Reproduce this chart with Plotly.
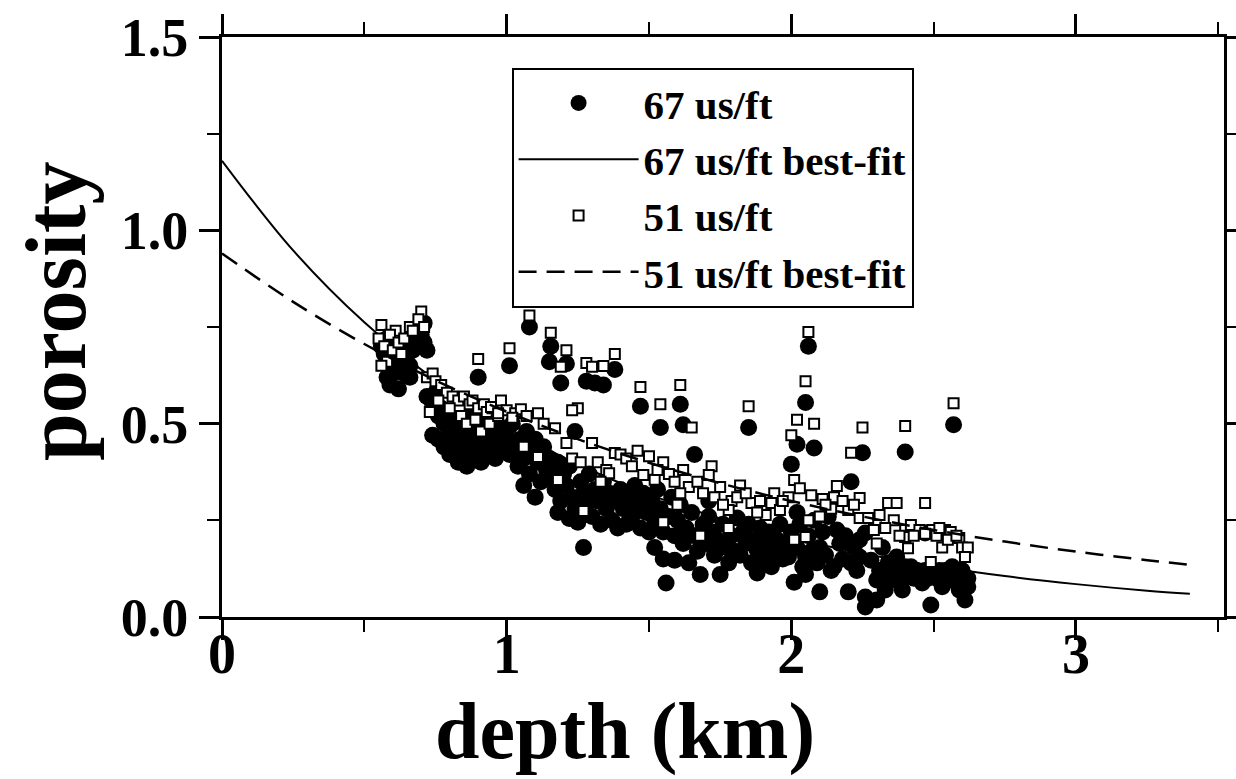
import plotly.graph_objects as go

# ---------------- data ----------------
# 67 us/ft data points (depth km, porosity)
dots_67 = [
    (0.56,0.70),(0.57,0.68),(0.58,0.72),(0.58,0.62),(0.59,0.60),(0.60,0.66),(0.61,0.70),(0.62,0.64),
    (0.62,0.59),(0.63,0.68),(0.64,0.71),(0.65,0.66),(0.66,0.62),(0.67,0.69),(0.68,0.72),(0.69,0.75),
    (0.69,0.70),(0.70,0.73),(0.71,0.76),(0.71,0.71),(0.72,0.69),(0.60,0.63),(0.64,0.63),(0.66,0.65),
    (0.72,0.57),(0.74,0.55),(0.75,0.58),(0.76,0.52),(0.77,0.54),(0.78,0.50),(0.79,0.53),(0.80,0.48),
    (0.74,0.47),(0.76,0.46),(0.78,0.44),(0.80,0.42),(0.82,0.45),(0.83,0.40),(0.84,0.47),(0.85,0.43),
    (0.86,0.39),(0.87,0.45),(0.88,0.41),(0.89,0.48),(0.90,0.44),(0.91,0.40),(0.92,0.46),(0.93,0.50),
    (0.94,0.43),(0.95,0.47),(0.96,0.41),(0.97,0.45),(0.98,0.49),(0.99,0.44),(0.82,0.51),(0.85,0.49),
    (0.88,0.52),(0.91,0.50),(0.94,0.52),(0.96,0.50),
    (1.00,0.47),(1.01,0.42),(1.02,0.50),(1.03,0.44),(1.04,0.39),(1.05,0.46),(1.06,0.41),(1.06,0.34),
    (1.07,0.48),(1.08,0.37),(1.09,0.43),(1.10,0.31),(1.10,0.46),(1.11,0.40),(1.12,0.35),(1.13,0.44),
    (1.14,0.38),(1.15,0.41),(1.16,0.36),(1.17,0.33),(1.18,0.40),(1.18,0.27),(1.19,0.30),(1.20,0.37),
    (1.21,0.34),(1.22,0.255),(1.22,0.39),(1.23,0.31),(1.24,0.48),(1.24,0.28),(1.25,0.245),(1.26,0.35),
    (1.27,0.18),(1.27,0.32),(1.28,0.29),(1.29,0.37),(1.30,0.26),(1.31,0.33),(1.32,0.30),(1.33,0.24),
    (1.34,0.35),(1.35,0.28),(1.36,0.32),(1.37,0.25),(1.38,0.30),(1.39,0.23),
    (1.08,0.75),(1.01,0.65),(1.155,0.70),(1.15,0.66),(1.21,0.655),(1.19,0.605),(1.28,0.61),(1.31,0.605),
    (1.34,0.60),(1.38,0.64),(0.90,0.62),
    (1.40,0.33),(1.41,0.28),(1.42,0.24),(1.43,0.31),(1.44,0.26),(1.45,0.34),(1.46,0.29),(1.47,0.23),
    (1.48,0.32),(1.49,0.27),(1.50,0.22),(1.51,0.30),(1.52,0.25),(1.52,0.18),(1.53,0.33),(1.54,0.28),
    (1.55,0.15),(1.55,0.22),(1.56,0.088),(1.57,0.26),(1.58,0.31),(1.59,0.147),(1.59,0.21),(1.60,0.25),
    (1.61,0.29),(1.62,0.19),(1.63,0.23),(1.64,0.14),(1.65,0.27),(1.66,0.21),(1.67,0.17),(1.68,0.11),
    (1.69,0.24),(1.70,0.19),(1.71,0.30),(1.71,0.26),(1.72,0.22),(1.73,0.16),(1.74,0.20),(1.75,0.11),
    (1.76,0.24),(1.77,0.18),(1.78,0.14),(1.79,0.21),(1.80,0.17),
    (1.47,0.545),(1.54,0.49),(1.61,0.55),(1.62,0.497),(1.66,0.42),
    (1.81,0.256),(1.82,0.16),(1.83,0.22),(1.84,0.19),(1.835,0.207),(1.85,0.24),(1.86,0.14),(1.87,0.20),
    (1.88,0.114),(1.88,0.173),(1.89,0.23),(1.90,0.15),(1.91,0.19),(1.92,0.22),(1.93,0.13),(1.94,0.17),
    (1.95,0.20),(1.96,0.24),(1.97,0.15),(1.98,0.19),(1.99,0.155),(2.00,0.22),(2.01,0.09),(2.02,0.27),
    (2.02,0.18),(2.03,0.24),(2.04,0.13),(2.05,0.11),(2.05,0.155),(2.06,0.21),(2.07,0.17),(2.08,0.25),
    (2.09,0.14),(2.10,0.065),(2.10,0.18),(2.11,0.22),(2.12,0.16),(2.13,0.26),(2.14,0.12),(2.15,0.13),
    (2.16,0.225),(2.17,0.19),(2.18,0.15),(2.19,0.21),(2.20,0.065),(2.21,0.14),(2.22,0.18),(2.23,0.12),
    (2.24,0.155),(2.24,0.20),(2.26,0.052),(2.26,0.026),
    (2.06,0.70),(2.05,0.555),(1.85,0.49),(2.02,0.447),(2.08,0.437),(2.00,0.395),(2.25,0.425),(2.21,0.35),
    (2.27,0.039),(2.28,0.147),(2.26,0.217),(2.30,0.044),(2.30,0.096),(2.31,0.12),(2.32,0.18),(2.33,0.07),
    (2.34,0.14),(2.35,0.10),(2.36,0.12),(2.37,0.155),(2.38,0.09),(2.39,0.103),(2.39,0.07),(2.40,0.13),
    (2.41,0.11),(2.42,0.13),(2.43,0.10),(2.44,0.12),(2.45,0.11),(2.46,0.088),(2.47,0.217),(2.47,0.12),
    (2.48,0.10),(2.49,0.12),(2.49,0.031),(2.50,0.11),(2.51,0.10),(2.52,0.12),(2.53,0.078),(2.54,0.12),
    (2.55,0.10),(2.565,0.13),(2.57,0.11),(2.58,0.09),(2.59,0.103),(2.59,0.07),(2.60,0.12),(2.61,0.044),
    (2.62,0.078),(2.62,0.10),
    (2.57,0.497),(2.40,0.427),
]

# 51 us/ft data points (depth km, porosity)
squares_51 = [
    (0.56,0.755),(0.61,0.74),(0.66,0.75),(0.70,0.79),(0.55,0.72),(0.57,0.70),(0.59,0.73),(0.60,0.69),
    (0.62,0.71),(0.64,0.72),(0.67,0.74),(0.69,0.77),(0.71,0.75),(0.58,0.66),(0.63,0.68),(0.56,0.65),
    (0.72,0.62),(0.74,0.63),(0.75,0.61),(0.77,0.60),(0.79,0.58),(0.81,0.57),(0.83,0.56),(0.85,0.57),
    (0.87,0.55),(0.88,0.56),(0.90,0.54),(0.92,0.55),(0.93,0.53),(0.95,0.54),(0.73,0.53),(0.76,0.56),
    (0.80,0.54),(0.84,0.52),(0.86,0.50),(0.89,0.51),(0.91,0.48),(0.94,0.50),(0.97,0.52),(0.98,0.56),
    (0.90,0.667),
    (1.00,0.535),(1.03,0.527),(1.05,0.537),(1.07,0.52),(1.11,0.527),(1.13,0.50),(1.17,0.488),(1.21,0.45),
    (1.23,0.41),(1.30,0.45),(1.11,0.414),(1.18,0.354),(1.27,0.274),(1.32,0.40),(1.35,0.38),(1.36,0.372),
    (1.38,0.424),(0.945,0.543),(0.97,0.527),(1.02,0.515),(1.06,0.44),(1.33,0.35),(1.26,0.40),
    (1.08,0.78),(1.01,0.695),(1.155,0.735),(1.21,0.69),(1.19,0.647),(1.28,0.657),(1.30,0.647),(1.34,0.649),
    (1.38,0.68),(1.25,0.54),(1.23,0.535),
    (1.40,0.42),(1.42,0.41),(1.50,0.416),(1.55,0.40),(1.57,0.37),(1.64,0.336),(1.67,0.35),(1.72,0.39),
    (1.71,0.367),(1.75,0.336),(1.82,0.34),(1.79,0.30),(1.61,0.32),(1.60,0.29),(1.55,0.245),(1.68,0.21),
    (1.78,0.277),(1.78,0.23),(1.48,0.367),(1.52,0.355),(1.44,0.39),(1.46,0.43),(1.53,0.38),(1.59,0.35),
    (1.62,0.38),(1.69,0.32),(1.73,0.31),(1.76,0.29),(1.81,0.31),
    (1.47,0.595),(1.54,0.55),(1.61,0.60),(1.65,0.49),
    (2.06,0.737),(2.05,0.61),(1.85,0.545),(2.02,0.51),(2.08,0.50),(2.00,0.47),(2.25,0.49),(2.21,0.425),
    (2.01,0.354),(2.03,0.333),(1.94,0.32),(1.99,0.31),(2.07,0.315),(2.11,0.305),(2.15,0.31),
    (2.16,0.339),(2.24,0.308),(1.86,0.295),(1.89,0.30),(1.93,0.295),(1.96,0.277),(1.91,0.264),(2.10,0.26),
    (2.14,0.28),(2.20,0.277),(2.24,0.256),(2.01,0.20),(2.05,0.207),(2.06,0.25),(1.84,0.32),(1.88,0.27),
    (1.97,0.30),(2.12,0.29),(2.18,0.30),(2.22,0.29),
    (2.57,0.553),(2.40,0.494),(2.47,0.295),(2.34,0.295),(2.37,0.295),(2.36,0.25),(2.31,0.264),(2.27,0.256),
    (2.29,0.225),(2.30,0.19),(2.40,0.225),(2.42,0.238),(2.45,0.225),(2.495,0.225),(2.54,0.225),(2.56,0.22),
    (2.59,0.204),(2.60,0.18),(2.62,0.18),(2.61,0.155),(2.53,0.18),(2.41,0.178),(2.49,0.142),(2.40,0.207),
    (2.33,0.23),(2.38,0.21),(2.43,0.21),(2.47,0.215),(2.51,0.21),(2.55,0.20),(2.58,0.21),(2.52,0.23),
]

# best-fit curves read at these depths
fit_depth = [0.0, 0.25, 0.5, 0.75, 1.0, 1.25, 1.5, 1.75, 2.0, 2.25, 2.5, 2.75, 3.0, 3.25, 3.4]
fit_67 = [1.18, 0.948, 0.762, 0.612, 0.491, 0.395, 0.317, 0.255, 0.205, 0.164, 0.132, 0.106, 0.085, 0.068, 0.060]
fit_51 = [0.94, 0.815, 0.706, 0.612, 0.531, 0.460, 0.399, 0.346, 0.300, 0.260, 0.225, 0.195, 0.169, 0.147, 0.135]

x_tick_vals = [0, 1, 2, 3]
x_tick_text = ["0", "1", "2", "3"]
y_tick_vals = [0.0, 0.5, 1.0, 1.5]
y_tick_text = ["0.0", "0.5", "1.0", "1.5"]
x_title = "depth (km)"
y_title = "porosity"

# ---------------- figure ----------------
FONT = "Liberation Serif"

fig = go.Figure()
fig.add_trace(go.Scatter(
    x=[p[0] for p in dots_67], y=[p[1] for p in dots_67], mode="markers",
    name="67 us/ft",
    marker=dict(symbol="circle", size=17, color="black", line=dict(width=0)),
))
fig.add_trace(go.Scatter(
    x=fit_depth, y=fit_67, mode="lines", name="67 us/ft best-fit",
    line=dict(color="black", width=2, shape="spline"),
))
fig.add_trace(go.Scatter(
    x=[p[0] for p in squares_51], y=[p[1] for p in squares_51], mode="markers",
    name="51 us/ft",
    marker=dict(symbol="square", size=10, color="white", line=dict(width=2, color="black")),
))
fig.add_trace(go.Scatter(
    x=fit_depth, y=fit_51, mode="lines", name="51 us/ft best-fit",
    line=dict(color="black", width=2.5, dash="18px,10px", shape="spline"),
))

axis_common = dict(
    showline=True, linecolor="black", linewidth=3, mirror="allticks",
    ticks="outside", ticklen=20, tickwidth=3, tickcolor="black",
    showgrid=False, zeroline=False, automargin=False,
)

fig.update_xaxes(
    range=[0, 3.52], tickvals=x_tick_vals, ticktext=x_tick_text,
    tickfont=dict(family=FONT, size=56, color="black", weight="bold"),
    ticklabelstandoff=-34,
    minor=dict(dtick=0.5, ticks="outside", ticklen=12, tickwidth=2, tickcolor="black"),
    **axis_common,
)
fig.update_yaxes(
    range=[0, 1.5], tickvals=y_tick_vals, ticktext=y_tick_text,
    tickfont=dict(family=FONT, size=54, color="black", weight="bold"),
    minor=dict(dtick=0.25, ticks="outside", ticklen=12, tickwidth=2, tickcolor="black"),
    **axis_common,
)

# axis titles, placed as in the reference
fig.add_annotation(
    text=x_title, xref="paper", yref="paper", x=0.402, y=-0.278,
    xanchor="center", yanchor="bottom", showarrow=False,
    font=dict(family=FONT, size=80, color="black", weight="bold"),
)
fig.add_annotation(
    text=y_title, xref="paper", yref="paper", x=-0.165, y=0.527,
    xanchor="center", yanchor="middle", showarrow=False, textangle=-90,
    font=dict(family=FONT, size=86, color="black", weight="bold"),
)

fig.update_layout(
    width=1236, height=779,
    margin=dict(l=222, r=12, t=37, b=162),
    paper_bgcolor="white", plot_bgcolor="white",
    showlegend=True,
    legend=dict(
        x=0.289, y=0.947, xanchor="left", yanchor="top",
        bgcolor="white", bordercolor="black", borderwidth=2,
        font=dict(family=FONT, size=41, color="black", weight="bold"),
        itemwidth=120, tracegroupgap=0,
    ),
)

fig.write_html("out.html")
